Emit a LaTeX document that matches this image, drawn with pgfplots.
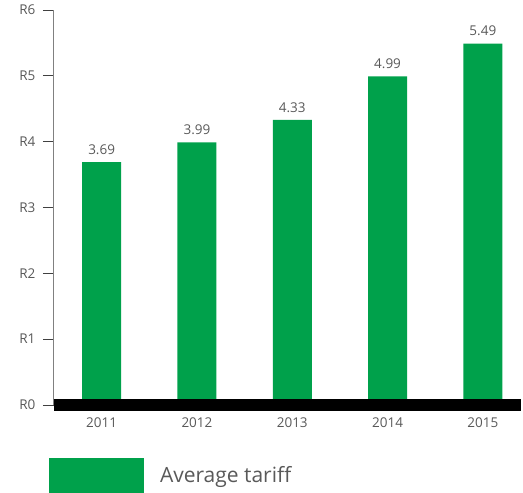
\documentclass[border=0pt]{standalone}
\usepackage{pgfplots}
\pgfplotsset{compat=1.18}
\usepackage{fontspec}
\setmainfont{Open Sans}
\definecolor{bargreen}{HTML}{00A14B}
\definecolor{txtgray}{HTML}{595959}
\definecolor{axgray}{HTML}{808080}
\begin{document}
\begin{tikzpicture}
\useasboundingbox (-54pt,-88pt) rectangle (469pt,405pt);
\begin{axis}[
  at={(0pt,0pt)}, anchor=south west,
  scale only axis, width=467pt, height=395pt,
  xmin=-0.5, xmax=4.4, ymin=0, ymax=6,
  axis lines*=left,
  y axis line style={axgray, line width=1pt, -},
  x axis line style={draw=none, -},
  xtick={0,1,2,3,4},
  xticklabels={2011,2012,2013,2014,2015},
  xticklabel style={font=\fontsize{13.5}{16}\selectfont, text=txtgray, yshift=2pt},
  x tick style={draw=none},
  ytick={0,1,2,3,4,5,6},
  yticklabels={R0,R1,R2,R3,R4,R5,R6},
  yticklabel style={font=\fontsize{13.5}{16}\selectfont, text=txtgray, xshift=-4pt},
  y tick style={black!75, line width=0.9pt},
  major tick length=11pt,
  tick align=outside,
  ybar, bar width=39pt, bar shift=0pt,
  nodes near coords={\pgfmathprintnumber[fixed,fixed zerofill,precision=2,assume math mode=true]{\pgfplotspointmeta}},
  every node near coord/.append style={font=\fontsize{13.5}{16}\selectfont, text=txtgray, yshift=4pt},
  clip=false,
  legend style={draw=none, fill=none, inner sep=0pt, outer sep=0pt,
    at={(axis description cs:-0.0107,-0.134)}, anchor=north west,
    font=\fontsize{21}{24}\selectfont, text=txtgray},
  legend cell align=left,
  legend image code/.code={\fill[bargreen] (0pt,-17.5pt) rectangle (95pt,17.5pt); \path (109pt,0pt);},
]
\addplot[fill=bargreen, draw=none] coordinates {(0,3.69) (1,3.99) (2,4.33) (3,4.99) (4,5.49)};
\addlegendentry{Average tariff}
\draw[black, line width=12pt] (axis cs:-0.5,0) -- (axis cs:4.4,0);
\end{axis}
\end{tikzpicture}
\end{document}
